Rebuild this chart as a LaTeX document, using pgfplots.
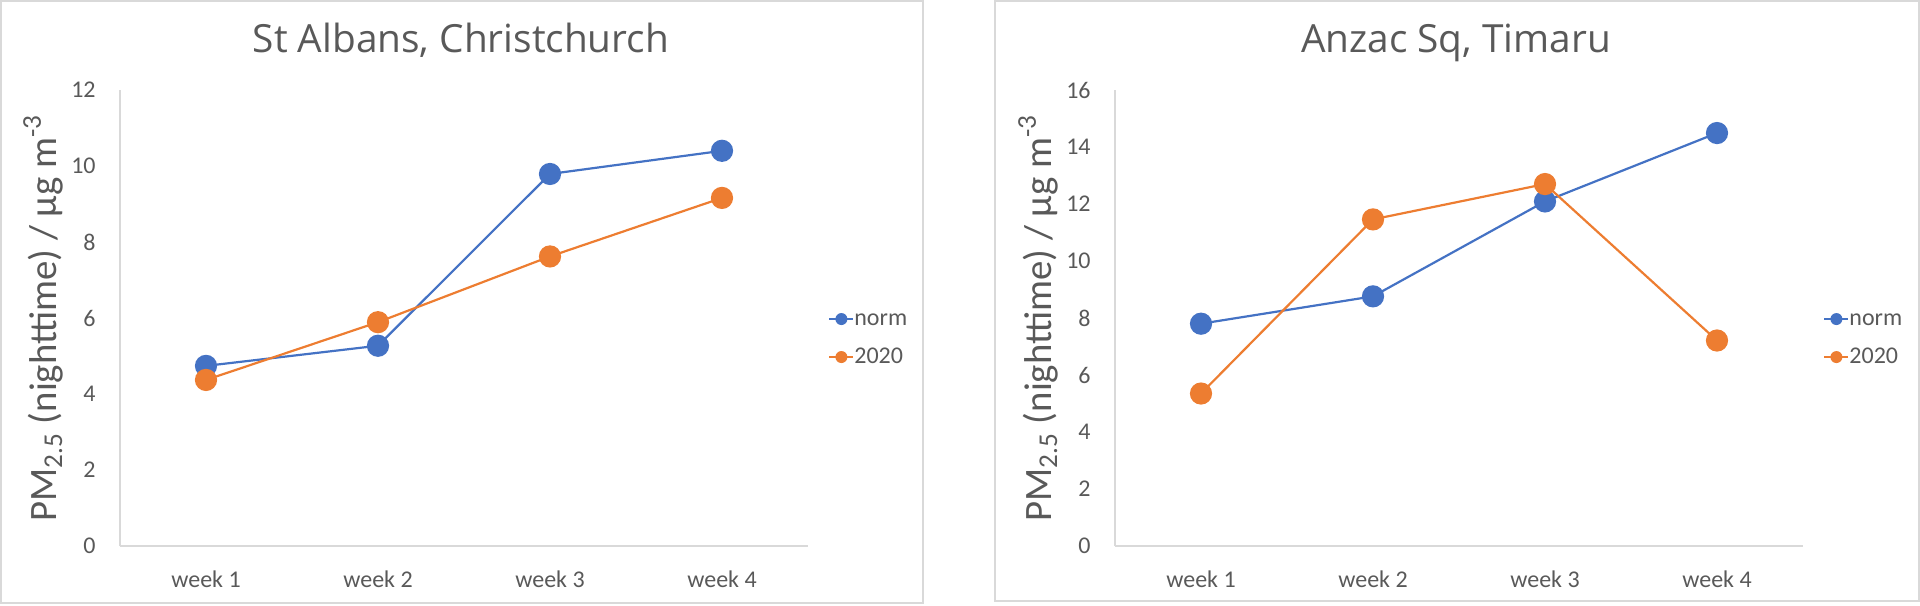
\documentclass[border=0pt]{standalone}
\usepackage{pgfplots}
\pgfplotsset{compat=1.18}
\usepackage{fontspec}
\setmainfont{Carlito}
\newfontfamily\titlefont{Open Sans}
\definecolor{xlblue}{HTML}{4472C4}
\definecolor{xlorange}{HTML}{ED7D31}
\definecolor{xlgray}{HTML}{595959}
\definecolor{xlline}{HTML}{D9D9D9}
\pgfplotstableread{
x norm y2020
0 4.74 4.37
1 5.27 5.89
2 9.79 7.62
3 10.40 9.16
}\christchurch
\pgfplotstableread{
x norm y2020
0 7.80 5.35
1 8.76 11.46
2 12.09 12.70
3 14.49 7.21
}\timaru
\pgfplotsset{
  panel/.style={
    scale only axis, width=344pt, height=228pt,
    anchor=south west,
    xmin=-0.5, xmax=3.5, ymin=0,
    xtick=data, xticklabels={week 1,week 2,week 3,week 4},
    axis x line*=bottom, axis y line*=left,
    axis line style={draw=xlline, line width=0.75pt},
    major tick length=0pt,
    tick label style={font=\fontsize{12}{14}\selectfont, text=xlgray},
    /pgf/number format/assume math mode=true,
    yticklabel style={anchor=east, inner sep=0pt, xshift=-12pt},
    xticklabel style={anchor=base, inner sep=0pt, yshift=-20.5pt},
    every axis title/.style={at={(rel axis cs:0.5,1)}, anchor=base, xshift=-1.5pt, yshift=18.5pt, font=\titlefont\fontsize{19.4}{22}\selectfont, text=xlgray},
    every axis y label/.style={at={(rel axis cs:0,0.5)}, shift={(-38.5pt,0pt)}, rotate=90, anchor=center, font=\fontsize{19.4}{22}\selectfont, text=xlgray},
    ylabel={PM\textsubscript{2.5} (nighttime) / µg m\textsuperscript{-3}},
    legend style={at={(rel axis cs:1,0.456)}, anchor=west, xshift=10pt, draw=none, fill=none, inner sep=0pt,
      font=\fontsize{12}{14}\selectfont, text=xlgray, row sep=7pt,
      nodes={inner sep=0pt, text height=9pt, text depth=3pt},
      /tikz/every even column/.append style={column sep=2pt}},
    legend cell align=left,
    legend image code/.code={
      \draw[#1, line width=1pt] (0pt,0pt) -- (12pt,0pt);
      \fill[#1, draw=none] (6pt,0pt) circle (3pt);
    },
  },
  normstyle/.style={color=xlblue, line width=1.1pt, mark=*, mark size=5pt, mark options={fill=xlblue, draw=none}},
  newstyle/.style={color=xlorange, line width=1.1pt, mark=*, mark size=5pt, mark options={fill=xlorange, draw=none}},
}
\begin{document}
\begin{tikzpicture}
\path (0pt,0pt) rectangle (960pt,302.5pt);
\draw[xlline, line width=0.75pt] (0.5pt,1pt) rectangle (461.5pt,302pt);
\draw[xlline, line width=0.75pt] (497.5pt,2pt) rectangle (959.5pt,302pt);
\begin{axis}[panel, at={(60pt,29.5pt)}, ymax=12, ytick={0,2,...,12}, title={St Albans, Christchurch}]
\addplot[normstyle] table[x=x, y=norm] {\christchurch};
\addlegendentry{norm}
\addplot[newstyle] table[x=x, y=y2020] {\christchurch};
\addlegendentry{2020}
\end{axis}
\begin{axis}[panel, at={(557.5pt,29.5pt)}, ymax=16, ytick={0,2,...,16}, title={Anzac Sq, Timaru}]
\addplot[normstyle] table[x=x, y=norm] {\timaru};
\addlegendentry{norm}
\addplot[newstyle] table[x=x, y=y2020] {\timaru};
\addlegendentry{2020}
\end{axis}
\end{tikzpicture}
\end{document}
